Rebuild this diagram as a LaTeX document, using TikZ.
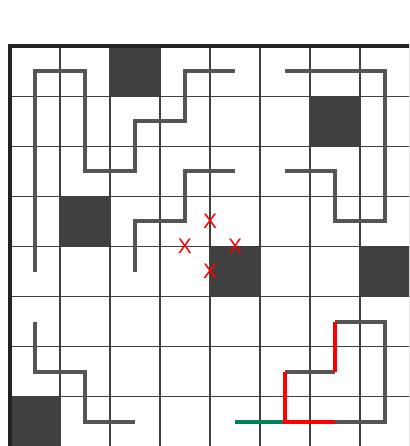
\documentclass[tikz,border=0pt]{standalone}
\usepackage{fontspec}
\newfontfamily\xfont{Liberation Sans}
\definecolor{cellgrey}{HTML}{404040}
\definecolor{gridgrey}{HTML}{404040}
\definecolor{pathgrey}{HTML}{555555}
\definecolor{borderc}{HTML}{222222}
\definecolor{pathgreen}{HTML}{00805A}
\tikzset{
  dark/.style={fill=cellgrey,draw=none},
  gridline/.style={draw=gridgrey,line width=1.8pt},
  border/.style={draw=borderc,line width=4pt},
  route/.style={draw=pathgrey,line width=4pt,line join=miter},
  redroute/.style={draw=red,line width=4pt,line join=miter},
  greenroute/.style={draw=pathgreen,line width=4pt},
  xmark/.style={text=red,font=\xfont\fontsize{21}{21}\selectfont,inner sep=0pt}
}
\begin{document}
\begin{tikzpicture}[x=50pt,y=-50pt]
\useasboundingbox (-0.2,-0.93) rectangle (7.98,7.99);
\clip (-0.2,-0.93) rectangle (7.98,7.99);
\fill[white] (-0.2,-0.93) rectangle (7.98,7.99);
% dark cells
\foreach \c/\r in {2/0,6/1,1/3,4/4,7/4,0/7}
  \path[dark] (\c,\r) rectangle ++(1,1);
% grid
\foreach \i in {1,...,8} {
  \draw[gridline] (\i,0) -- (\i,8.2);
  \draw[gridline] (0,\i) -- (8.2,\i);
}
% border
\draw[border] (0,8.2) -- (0,0) -- (8.2,0);
% cell-centre coordinates
\foreach \c in {0,...,7}
  \foreach \r in {0,...,7}
    \coordinate (p\c\r) at (\c+0.5,\r+0.5);
% routes
\draw[route] (p04) -- (p00) -- (p10) -- (p12) -- (p22) -- (p21) -- (p31) -- (p30) -- (p40);
\draw[route] (p50) -- (p70) -- (p73) -- (p63) -- (p62) -- (p52);
\draw[route] (p24) -- (p23) -- (p33) -- (p32) -- (p42);
\draw[route] (p05) -- (p06) -- (p16) -- (p17) -- (p27);
\draw[route] (p65) -- (p75) -- (p77) -- (p67);
\draw[route] (p56) -- (p66);
\draw[greenroute] (p47) -- (p57);
\draw[redroute] (p65) -- (p66);
\draw[redroute] (p56) -- (p57) -- (p67);
% marks
\node[xmark] (x1) at (4,3.5) {X};
\node[xmark] (x2) at (3.5,4) {X};
\node[xmark] (x3) at (4.5,4) {X};
\node[xmark] (x4) at (4,4.5) {X};
\end{tikzpicture}
\end{document}
